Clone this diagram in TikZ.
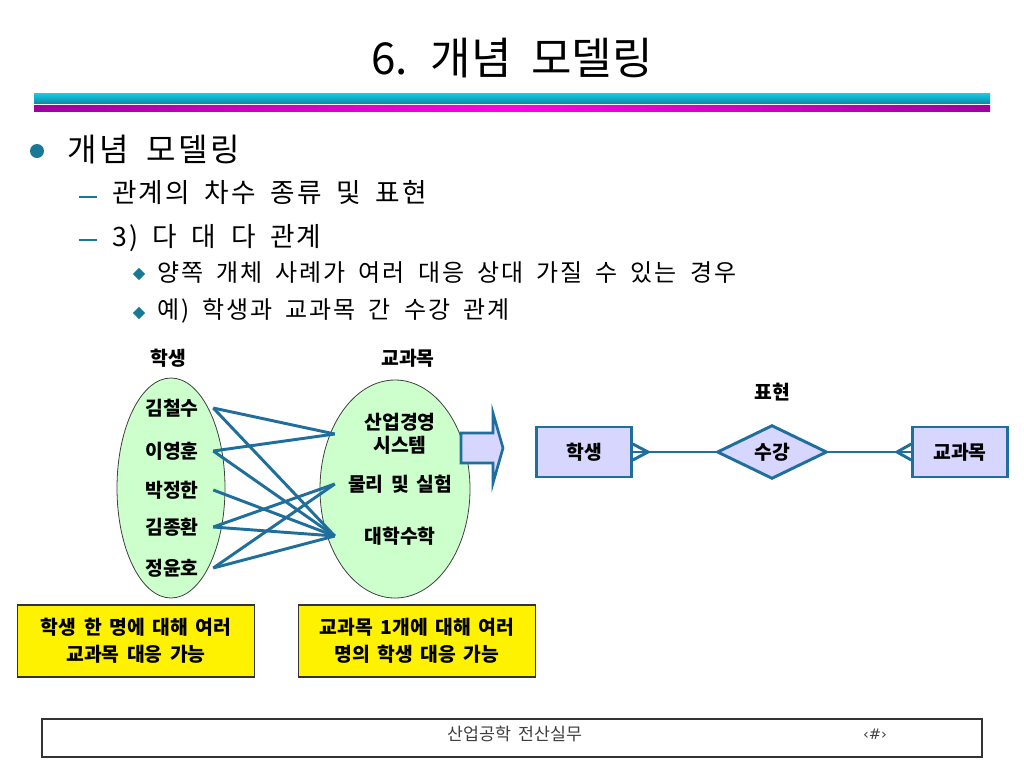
\documentclass[tikz,border=0pt]{standalone}
\usepackage{fontspec}
\setmainfont{Noto Sans CJK KR}[WordSpace=1.7]
\newfontfamily\slidefont{Noto Sans CJK KR}[WordSpace=2]
\newfontfamily\bodyfont{Noto Sans CJK KR}[WordSpace=1.8,LetterSpace=8]
\newfontfamily\symfont{DejaVu Sans}
\usetikzlibrary{shapes.geometric}

\definecolor{linkblue}{RGB}{31,110,155}
\definecolor{bulletteal}{RGB}{25,120,150}
\definecolor{ellgreen}{RGB}{204,255,204}
\definecolor{erfill}{RGB}{214,214,255}
\definecolor{barcyan}{RGB}{20,205,230}
\definecolor{barteal}{RGB}{15,140,170}
\definecolor{barmagenta}{RGB}{255,0,230}
\definecolor{barpurple}{RGB}{160,0,160}

\begin{document}
\begin{tikzpicture}[x=0.75pt,y=-0.75pt,
  lbl/.style={font=\fontsize{14.5}{17}\selectfont\bfseries},
  pupil/.style={lbl,minimum width=61.5pt,inner sep=0pt},
  subj/.style={lbl,align=center,minimum width=97.5pt,inner sep=0pt},
  link/.style={draw=linkblue,line width=2.2pt},
  erline/.style={draw=linkblue,line width=2.2pt},
  entity/.style={lbl,rectangle,draw=linkblue,line width=2.2pt,fill=erfill,minimum width=71pt,minimum height=37.5pt},
  relship/.style={lbl,diamond,draw=linkblue,line width=2.2pt,fill=erfill,inner sep=0pt,minimum width=82.5pt,minimum height=37.5pt},
  note/.style={font=\fontsize{14.5}{20}\selectfont\bfseries,align=center,fill=yellow,draw=black!80,line width=1pt,minimum width=178pt,minimum height=54pt},
  body1/.style={font=\bodyfont\fontsize{24}{28}\selectfont,inner sep=0pt,anchor=west},
  body2/.style={font=\bodyfont\fontsize{20}{24}\selectfont,inner sep=0pt,anchor=west},
  body3/.style={font=\bodyfont\fontsize{18}{22}\selectfont,inner sep=0pt,anchor=west},
  dashmark/.style={rectangle,fill=bulletteal,inner sep=0pt,minimum width=13pt,minimum height=1.8pt},
  gem/.style={diamond,fill=bulletteal,inner sep=0pt,minimum width=9.5pt,minimum height=9.5pt},
  foot/.style={font=\slidefont\fontsize{13}{15}\selectfont,text=black!75}]

\fill[white] (0,0) rectangle (1024,768);
\useasboundingbox (0,0) rectangle (1024,768);

% title and bars
\node[font=\slidefont\fontsize{33}{38}\selectfont] (title) at (512,58) {6. 개념 모델링};
\shade[top color=barcyan,bottom color=barteal] (34,93) rectangle (990,103);
\shade[left color=barpurple,right color=barpurple,middle color=barmagenta] (34,105) rectangle (990,111);

% bullet text
\node[circle,fill=bulletteal,minimum size=10.5pt,inner sep=0pt] (dot1) at (37,151) {};
\node[body1] (lvl1) at (67,150) {개념 모델링};
\node[dashmark] (dash1) at (88,197) {};
\node[body2] (lvl2a) at (112,193) {관계의 차수 종류 및 표현};
\node[dashmark] (dash2) at (88,240) {};
\node[body2] (lvl2b) at (112,238) {3) 다 대 다 관계};
\node[gem] (gem1) at (139,274) {};
\node[body3] (lvl3a) at (157,273) {양쪽 개체 사례가 여러 대응 상대 가질 수 있는 경우};
\node[gem] (gem2) at (139,313) {};
\node[body3] (lvl3b) at (157,311) {예) 학생과 교과목 간 수강 관계};

% instance diagram
\node[lbl] (stuhead) at (168,358) {학생};
\node[lbl] (subhead) at (408,358) {교과목};
\node[ellipse,draw=black!75,line width=0.6pt,fill=ellgreen,inner sep=0pt,minimum width=81pt,minimum height=165pt] (stuset) at (171,488) {};
\node[ellipse,draw=black!75,line width=0.6pt,fill=ellgreen,inner sep=0pt,minimum width=112.5pt,minimum height=163.5pt] (subset) at (395,489) {};

\node[pupil] (kim) at (172,408) {김철수};
\node[pupil] (lee) at (172,451) {이영훈};
\node[pupil] (park) at (172,490) {박정한};
\node[pupil] (jong) at (172,527) {김종환};
\node[pupil] (jung) at (172,568) {정윤호};

\node[subj] (mgmt) at (400,434) {산업경영\\시스템};
\node[subj] (phys) at (400,484) {물리 및 실험};
\node[subj] (calc) at (400,536) {대학수학};

\foreach \a/\b in {kim/mgmt,kim/calc,lee/mgmt,lee/calc,park/calc,jong/phys,jong/calc,jung/phys,jung/calc}
  \draw[link] (\a.east) -- (\b.west);

% block arrow
\filldraw[fill=erfill,draw=linkblue,line width=2pt,line join=miter] (461,433) -- (493,433) -- (493,413) -- (503,448) -- (493,483) -- (493,463) -- (461,463) -- cycle;

% ER notation
\node[lbl] (erhead) at (772,392) {표현};
\node[entity] (ents) at (584,452) {학생};
\node[relship] (rel) at (772,452) {수강};
\node[entity] (entc) at (960,452) {교과목};
\draw[erline] (ents.east) -- (rel.west);
\draw[erline] (rel.east) -- (entc.west);
\coordinate (foots) at (648,452);
\coordinate (footc) at (897,452);
\draw[erline] ([yshift=6pt]ents.east) -- (foots) -- ([yshift=-6pt]ents.east);
\draw[erline] ([yshift=6pt]entc.west) -- (footc) -- ([yshift=-6pt]entc.west);

% notes
\node[note] (note1) at (136,641) {학생 한 명에 대해 여러\\교과목 대응 가능};
\node[note] (note2) at (417,641) {교과목 1개에 대해 여러\\명의 학생 대응 가능};

% footer
\node[draw=black!80,line width=0.8pt,minimum width=705pt,minimum height=28.5pt,inner sep=0pt] (footer) at (512,738) {};
\node[foot] (course) at (515,734) {산업공학 전산실무};
\node[foot,font=\symfont\fontsize{11}{13}\selectfont] (pageno) at (875,734) {‹\#›};
\end{tikzpicture}
\end{document}
